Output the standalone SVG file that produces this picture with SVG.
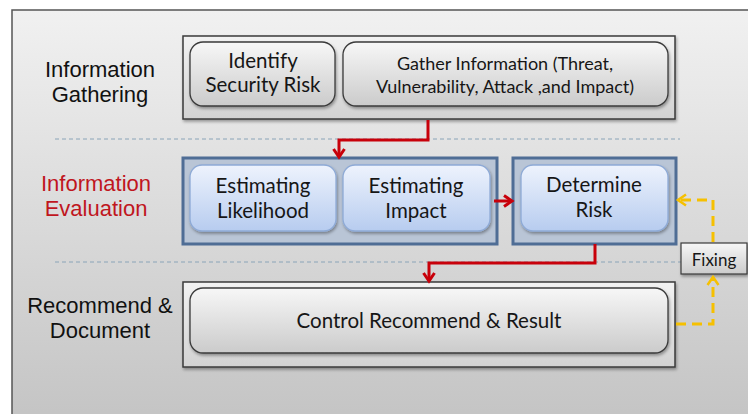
<svg xmlns="http://www.w3.org/2000/svg" width="748" height="414" viewBox="0 0 748 414">
  <defs>
    <linearGradient id="bg" x1="0" y1="0" x2="0" y2="1">
      <stop offset="0" stop-color="#f1f1f1"/>
      <stop offset="1" stop-color="#c3c3c3"/>
    </linearGradient>
    <linearGradient id="panel" x1="0" y1="0" x2="0" y2="1">
      <stop offset="0" stop-color="#f2f2f2"/>
      <stop offset="1" stop-color="#d2d2d2"/>
    </linearGradient>
    <linearGradient id="grayBox" x1="0" y1="0" x2="0" y2="1">
      <stop offset="0" stop-color="#f7f7f7"/>
      <stop offset="1" stop-color="#cbcbcb"/>
    </linearGradient>
    <linearGradient id="blueBox" x1="0" y1="0" x2="0" y2="1">
      <stop offset="0" stop-color="#eef3fd"/>
      <stop offset="1" stop-color="#b7ccef"/>
    </linearGradient>
    <filter id="shadow" x="-10%" y="-10%" width="120%" height="130%">
      <feDropShadow dx="1" dy="2" stdDeviation="1.5" flood-color="#000" flood-opacity="0.35"/>
    </filter>
    <marker id="redHead" viewBox="0 0 14 14" refX="11" refY="7" markerWidth="14" markerHeight="14" orient="auto" markerUnits="userSpaceOnUse">
      <path d="M3,1.5 L11,7 L3,12.5" fill="none" stroke="#c8000a" stroke-width="3" stroke-linejoin="miter"/>
    </marker>
    <marker id="yellowHead" viewBox="0 0 14 14" refX="11" refY="7" markerWidth="14" markerHeight="14" orient="auto" markerUnits="userSpaceOnUse">
      <path d="M3,1.5 L11,7 L3,12.5" fill="none" stroke="#f6c000" stroke-width="2.5"/>
    </marker>
  </defs>
  <style>
    .stage { font-family: "Liberation Sans", Arial, sans-serif; font-size: 22px; text-anchor: middle; fill: #111; }
    .stage.red { fill: #c0161e; }
    .label { font-family: Lato, "Open Sans", sans-serif; font-size: 20.5px; text-anchor: middle; fill: #161616; }
    .small { font-size: 18px; }
    .panel { fill: url(#panel); stroke: #3a3a3a; stroke-width: 1.5; }
    .bluePanel { fill: #b9c5d6; stroke: #4f6d95; stroke-width: 3; }
    .grayBox { fill: url(#grayBox); stroke: #3a3a3a; stroke-width: 1.3; }
    .blueBox { fill: url(#blueBox); stroke: #8eaad6; stroke-width: 1.3; }
    .sep { stroke: #8aa4b8; stroke-width: 1; stroke-dasharray: 4 3; fill: none; }
    .redLine { stroke: #c8000a; stroke-width: 3; fill: none; }
    .yellow { stroke: #f6c000; stroke-width: 3; fill: none; stroke-dasharray: 10 6; }
  </style>

  <!-- page frame -->
  <rect x="12" y="10" width="760" height="420" fill="url(#bg)" stroke="#555" stroke-width="1.5"/>

  <!-- stage names -->
  <g id="stage-gathering">
    <text class="stage" x="100" y="77">Information</text>
    <text class="stage" x="100" y="102">Gathering</text>
  </g>
  <g id="stage-evaluation">
    <text class="stage red" x="96" y="191">Information</text>
    <text class="stage red" x="96" y="216">Evaluation</text>
  </g>
  <g id="stage-document">
    <text class="stage" x="100" y="313">Recommend &amp;</text>
    <text class="stage" x="100" y="338">Document</text>
  </g>

  <!-- dashed stage separators -->
  <g id="separators">
    <line class="sep" x1="55" y1="139" x2="680" y2="139"/>
    <line class="sep" x1="55" y1="262" x2="745" y2="262"/>
  </g>

  <!-- row 1: information gathering -->
  <g id="panel-gathering">
    <rect class="panel" x="183" y="36" width="492" height="83" filter="url(#shadow)"/>
  </g>
  <g id="identify-risk">
    <rect class="grayBox" x="190" y="42" width="145" height="64" rx="13" filter="url(#shadow)"/>
    <text class="label" x="263" y="68">Identify</text>
    <text class="label" x="263" y="92">Security Risk</text>
  </g>
  <g id="gather-info">
    <rect class="grayBox" x="343" y="42" width="325" height="64" rx="13" filter="url(#shadow)"/>
    <text class="label small" x="505" y="70">Gather Information (Threat,</text>
    <text class="label small" x="505" y="93">Vulnerability, Attack ,and Impact)</text>
  </g>

  <!-- row 2: information evaluation -->
  <g id="panel-estimating">
    <rect class="bluePanel" x="183" y="158" width="314" height="86"/>
  </g>
  <g id="estimating-likelihood">
    <rect class="blueBox" x="190" y="165" width="146" height="66" rx="12" filter="url(#shadow)"/>
    <text class="label" x="263" y="193">Estimating</text>
    <text class="label" x="263" y="218">Likelihood</text>
  </g>
  <g id="estimating-impact">
    <rect class="blueBox" x="343" y="165" width="147" height="66" rx="12" filter="url(#shadow)"/>
    <text class="label" x="416" y="193">Estimating</text>
    <text class="label" x="416" y="218">Impact</text>
  </g>
  <g id="determine-risk">
    <rect class="bluePanel" x="513" y="158" width="163" height="86"/>
    <rect class="blueBox" x="521" y="165" width="147" height="66" rx="12" filter="url(#shadow)"/>
    <text class="label" x="594" y="192">Determine</text>
    <text class="label" x="594" y="217">Risk</text>
  </g>

  <!-- row 3: recommend and document -->
  <g id="panel-document">
    <rect class="panel" x="183" y="282" width="492" height="85" filter="url(#shadow)"/>
  </g>
  <g id="control-result">
    <rect class="grayBox" x="190" y="288" width="478" height="65" rx="13" filter="url(#shadow)"/>
    <text class="label" x="429" y="328">Control Recommend &amp; Result</text>
  </g>

  <!-- fixing tag -->
  <g id="fixing">
    <rect x="681" y="243" width="66" height="31" fill="url(#grayBox)" stroke="#3a3a3a" stroke-width="1.2" filter="url(#shadow)"/>
    <text class="label small" x="714" y="266" style="font-size:17px">Fixing</text>
  </g>

  <!-- connectors -->
  <g id="connectors">
    <polyline class="redLine" points="428,120 428,140 339,140 339,157" marker-end="url(#redHead)"/>
    <line class="redLine" x1="494" y1="201" x2="512" y2="201" marker-end="url(#redHead)"/>
    <polyline class="redLine" points="595,244 595,263 429,263 429,281" marker-end="url(#redHead)"/>
    <polyline class="yellow" points="676,324 713,324 713,277" marker-end="url(#yellowHead)"/>
    <polyline class="yellow" points="713,242 713,200 678,200" marker-end="url(#yellowHead)"/>
  </g>
</svg>
